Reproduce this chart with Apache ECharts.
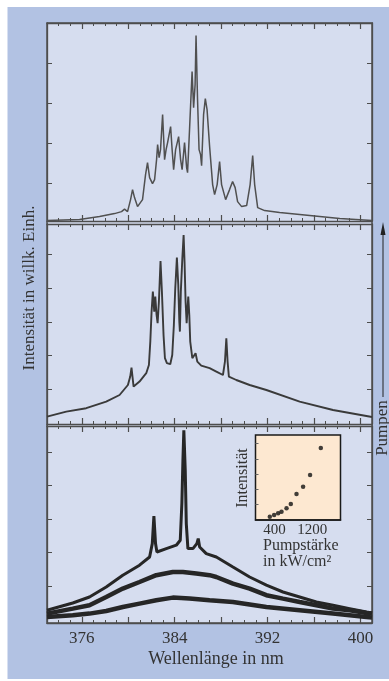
<!DOCTYPE html>
<html>
<head>
<meta charset="utf-8">
<script src="https://cdn.jsdelivr.net/npm/echarts@6/dist/echarts.min.js"></script>
<style>
  html, body { margin: 0; padding: 0; background: #fff; }
  #chart { width: 389px; height: 681px; }
</style>
</head>
<body>
<div id="chart"></div>
<script>
// Spektren, von oben (hohe Pumpstärke) nach unten
var wlTop = [373.00, 375.80, 377.53, 378.82, 379.42, 379.68, 379.94, 380.20, 380.37, 380.54,
  380.80, 380.97, 381.23, 381.49, 381.66, 381.84, 382.09, 382.27, 382.44, 382.53,
  382.66, 382.78, 382.96, 383.13, 383.26, 383.39, 383.65, 383.78, 383.91, 384.08,
  384.34, 384.51, 384.64, 384.85, 385.03, 385.11, 385.28, 385.50, 385.63, 385.76,
  385.84, 385.97, 386.10, 386.23, 386.32, 386.49, 386.64, 386.79, 387.01, 387.27,
  387.44, 387.66, 387.87, 388.04, 388.39, 388.73, 388.99, 389.21, 389.42, 389.77,
  390.20, 390.50, 390.72, 390.89, 391.15, 391.75, 393.04, 394.77, 398.22, 401.00];
var intTop = [1.2, 1.7, 3.2, 4.7, 5.7, 6.9, 5.7, 11.7, 16.7, 12.7,
  8.2, 7.2, 11.7, 24.2, 30.2, 22.7, 19.7, 21.7, 31.7, 39.2,
  32.7, 36.7, 54.2, 31.7, 36.7, 40.2, 48.2, 36.7, 26.7, 36.7,
  43.2, 31.7, 26.7, 40.2, 27.7, 25.2, 46.7, 75.7, 57.7, 69.2,
  93.7, 61.7, 36.7, 34.2, 28.7, 54.2, 62.2, 56.7, 38.2, 19.2,
  14.2, 19.2, 30.7, 19.2, 11.7, 16.7, 20.7, 17.7, 10.7, 8.2,
  8.7, 19.2, 33.7, 19.2, 7.7, 6.2, 5.2, 4.2, 2.2, 1.2];

var wlMid = [373.00, 374.66, 376.38, 378.10, 379.25, 379.97, 380.17, 380.28, 380.46, 380.97,
  381.55, 381.78, 381.90, 382.01, 382.12, 382.24, 382.33, 382.44, 382.53, 382.64,
  382.78, 382.90, 383.04, 383.16, 383.33, 383.62, 383.79, 383.93, 384.05, 384.19,
  384.31, 384.40, 384.45, 384.53, 384.66, 384.77, 384.85, 384.94, 385.03, 385.11,
  385.17, 385.26, 385.34, 385.52, 385.69, 385.80, 385.95, 386.29, 387.01, 387.59,
  388.16, 388.33, 388.45, 388.56, 388.67, 389.31, 390.46, 391.90, 394.77, 397.64, 401.00];
var intMid = [3.7, 6.2, 7.9, 11.2, 14.5, 19.5, 23.7, 28.2, 18.7, 21.2,
  25.4, 29.5, 41.2, 56.2, 66.2, 56.2, 63.7, 54.5, 50.4, 61.2,
  81.5, 66.2, 44.5, 32.9, 30.4, 29.9, 34.5, 49.5, 67.9, 83.2,
  69.5, 51.2, 46.2, 66.2, 82.9, 94.5, 81.2, 61.2, 50.4, 57.9,
  63.7, 54.5, 41.2, 32.9, 33.7, 35.4, 31.2, 29.2, 27.9, 26.2,
  24.5, 31.2, 42.9, 31.2, 23.7, 22.0, 19.5, 17.0, 11.2, 7.0, 3.5];

var wlLowA = [373.00, 375.22, 376.66, 378.10, 379.53, 380.97, 381.84, 382.07, 382.21, 382.35,
  382.47, 383.28, 384.14, 384.48, 384.62, 384.71, 384.79, 384.91, 385.00, 385.14,
  385.57, 385.91, 386.03, 386.15, 386.72, 387.59, 389.02, 390.46, 391.90, 393.33,
  394.77, 396.21, 397.64, 399.08, 400.52, 401.00];
var intLowA = [6.4, 10.0, 13.0, 18.0, 23.9, 28.9, 33.0, 39.7, 53.4, 39.7,
  35.5, 37.2, 38.9, 41.4, 59.9, 81.4, 96.4, 76.4, 49.7, 37.2,
  37.2, 39.7, 42.2, 38.0, 34.7, 33.0, 28.0, 23.0, 18.9, 15.5,
  13.0, 10.5, 8.9, 7.2, 5.5, 5.0];

var wlLowB = [373.00, 375.22, 376.66, 378.10, 379.53, 380.97, 382.41, 383.84, 384.71, 385.86,
  387.01, 387.59, 389.02, 390.46, 391.90, 393.33, 394.77, 396.21, 397.64, 399.08, 400.52, 401.00];
var intLowB = [4.7, 7.2, 8.9, 13.0, 17.2, 20.5, 23.9, 25.5, 25.5, 24.7,
  23.9, 23.0, 19.7, 17.2, 13.9, 12.2, 10.5, 8.9, 7.2, 6.4, 5.0, 4.8];

var wlLowC = [373.00, 375.22, 376.66, 378.10, 379.53, 380.97, 382.41, 383.84, 385.28, 387.01,
  389.02, 391.90, 394.77, 397.64, 400.52, 401.00];
var intLowC = [3.0, 3.9, 4.7, 6.0, 8.0, 9.7, 11.4, 12.7, 12.2, 11.4,
  10.5, 8.0, 6.4, 4.7, 3.0, 2.8];

// Einsatz: Intensität gegen Pumpstärke
var pumpPower = [303, 394, 479, 551, 657, 748, 868, 1008, 1156, 1383];
var pumpIntensity = [3.9, 5.9, 7.9, 9.8, 13.8, 18.8, 30.6, 39.2, 52.9, 84.7];

var xMajorTicks = [376, 380, 384, 388, 392, 396, 400];
var insetXLabels = [400, 1200];

function pairs(xs, ys) {
  return xs.map(function (x, i) { return [x, ys[i]]; });
}

var chartDom = document.getElementById("chart");
var myChart = echarts.init(chartDom);
var option;

var serif = "'Liberation Serif', 'Times New Roman', serif";
var frameColor = "#4d4d4d";
var textColor = "#333333";

var panels = [
  { top: 23, height: 198, min: 1, max: 100, ticks: [20, 40, 60, 80] },
  { top: 224, height: 200, min: 0, max: 100, ticks: [17.5, 34.5, 51, 68, 85] },
  { top: 426, height: 197, min: 0, max: 98.5, ticks: [18.5, 35.2, 51.9, 68.9, 85.5] },
];

var grids = [], xAxes = [], yAxes = [];
panels.forEach(function (p, i) {
  grids.push({ left: 47, width: 325, top: p.top, height: p.height });
  ["bottom", "top"].forEach(function (pos) {
    // kleine Striche jede nm
    xAxes.push({
      gridIndex: i, type: "value", position: pos, min: 373, max: 401, interval: 1,
      axisLine: { show: true, onZero: false, lineStyle: { color: frameColor, width: 1.3 } },
      axisTick: { show: true, inside: true, length: 3, lineStyle: { color: frameColor, width: 1 } },
      axisLabel: {
        show: i === 2 && pos === "bottom",
        margin: 7,
        color: textColor,
        fontFamily: serif,
        fontSize: 17,
        formatter: function (v) { return (v - 376) % 8 === 0 ? String(v) : ""; },
      },
      splitLine: { show: false },
    });
  });
  ["bottom", "top"].forEach(function (pos) {
    // lange Striche alle 4 nm
    xAxes.push({
      gridIndex: i, type: "value", position: pos, min: 373, max: 401,
      axisLine: { show: false, onZero: false },
      axisTick: { show: true, inside: true, length: 6, customValues: xMajorTicks,
        lineStyle: { color: frameColor, width: 1.2 } },
      axisLabel: { show: false },
      splitLine: { show: false },
    });
  });
  ["left", "right"].forEach(function (pos) {
    yAxes.push({
      gridIndex: i, type: "value", position: pos, min: p.min, max: p.max,
      axisLine: { show: true, lineStyle: { color: frameColor, width: 1.3 } },
      axisTick: { show: true, inside: true, length: 5, customValues: p.ticks,
        lineStyle: { color: frameColor, width: 1 } },
      axisLabel: { show: false },
      splitLine: { show: false },
    });
  });
});

// Einsatz
grids.push({ left: 255.5, top: 435, width: 85, height: 85, show: true,
  backgroundColor: "#fde8d1", borderColor: "#1a1a1a", borderWidth: 1.5 });
xAxes.push({
  gridIndex: 3, type: "value", min: 0, max: 1800, interval: 400,
  axisLine: { show: true, onZero: false, lineStyle: { color: "#1a1a1a", width: 1.5 } },
  axisTick: { show: false },
  axisLabel: {
    margin: 3, color: textColor, fontFamily: serif, fontSize: 15,
    formatter: function (v) { return insetXLabels.indexOf(v) >= 0 ? String(v) : ""; },
  },
  splitLine: { show: false },
});
yAxes.push({
  gridIndex: 3, type: "value", min: 0, max: 100,
  axisLine: { show: false },
  axisTick: { show: true, inside: true, length: 3, customValues: [18, 36, 54, 72, 90],
    lineStyle: { color: "#666" } },
  axisLabel: { show: false },
  splitLine: { show: false },
});

function spectrum(grid, xs, ys, width, color) {
  return {
    type: "line",
    xAxisIndex: grid * 4,
    yAxisIndex: grid * 2,
    data: pairs(xs, ys),
    symbol: "none",
    smooth: false,
    lineStyle: { width: width, color: color },
    z: 3,
  };
}

option = {
  animation: false,
  backgroundColor: "#ffffff",
  grid: grids,
  xAxis: xAxes,
  yAxis: yAxes,
  series: [
    spectrum(0, wlTop, intTop, 1.5, "#505050"),
    spectrum(1, wlMid, intMid, 1.9, "#3a3a3a"),
    spectrum(2, wlLowC, intLowC, 4.5, "#262626"),
    spectrum(2, wlLowB, intLowB, 4.5, "#262626"),
    spectrum(2, wlLowA, intLowA, 3, "#262626"),
    {
      type: "scatter",
      xAxisIndex: 12,
      yAxisIndex: 6,
      data: pairs(pumpPower, pumpIntensity),
      symbol: "circle",
      symbolSize: 4.5,
      itemStyle: { color: "#111" },
      z: 5,
    },
  ],
  graphic: [
    { type: "rect", z: -20, silent: true,
      shape: { x: 7.5, y: 7, width: 382, height: 672 }, style: { fill: "#b2c2e3" } },
    { type: "rect", z: -10, silent: true,
      shape: { x: 47, y: 23, width: 325, height: 600 },
      style: { fill: "#d6ddef", stroke: frameColor, lineWidth: 1.5 } },
    { type: "text", z: 20, x: 30, y: 288, rotation: Math.PI / 2,
      style: { text: "Intensität in willk. Einh.", fill: textColor, font: "17px " + serif,
        textAlign: "center", textVerticalAlign: "middle" } },
    { type: "text", z: 20, x: 216, y: 659,
      style: { text: "Wellenlänge in nm", fill: textColor, font: "18px " + serif,
        textAlign: "center", textVerticalAlign: "middle" } },
    { type: "text", z: 20, x: 383, y: 428, rotation: Math.PI / 2,
      style: { text: "Pumpen", fill: textColor, font: "17px " + serif,
        textAlign: "center", textVerticalAlign: "middle" } },
    { type: "line", z: 20, shape: { x1: 383, y1: 397, x2: 383, y2: 232 },
      style: { stroke: "#222", lineWidth: 1 } },
    { type: "polygon", z: 20, shape: { points: [[383, 222], [380.5, 235], [385.5, 235]] },
      style: { fill: "#222" } },
    { type: "text", z: 20, x: 243, y: 478, rotation: Math.PI / 2,
      style: { text: "Intensität", fill: textColor, font: "16px " + serif,
        textAlign: "center", textVerticalAlign: "middle" } },
    { type: "text", z: 20, x: 263, y: 546,
      style: { text: "Pumpstärke", fill: textColor, font: "16px " + serif,
        textAlign: "left", textVerticalAlign: "middle" } },
    { type: "text", z: 20, x: 263, y: 562,
      style: { text: "in kW/cm²", fill: textColor, font: "16px " + serif,
        textAlign: "left", textVerticalAlign: "middle" } },
  ],
};

option && myChart.setOption(option);
window.addEventListener("resize", function () {
  myChart.resize();
});
</script>
</body>
</html>
